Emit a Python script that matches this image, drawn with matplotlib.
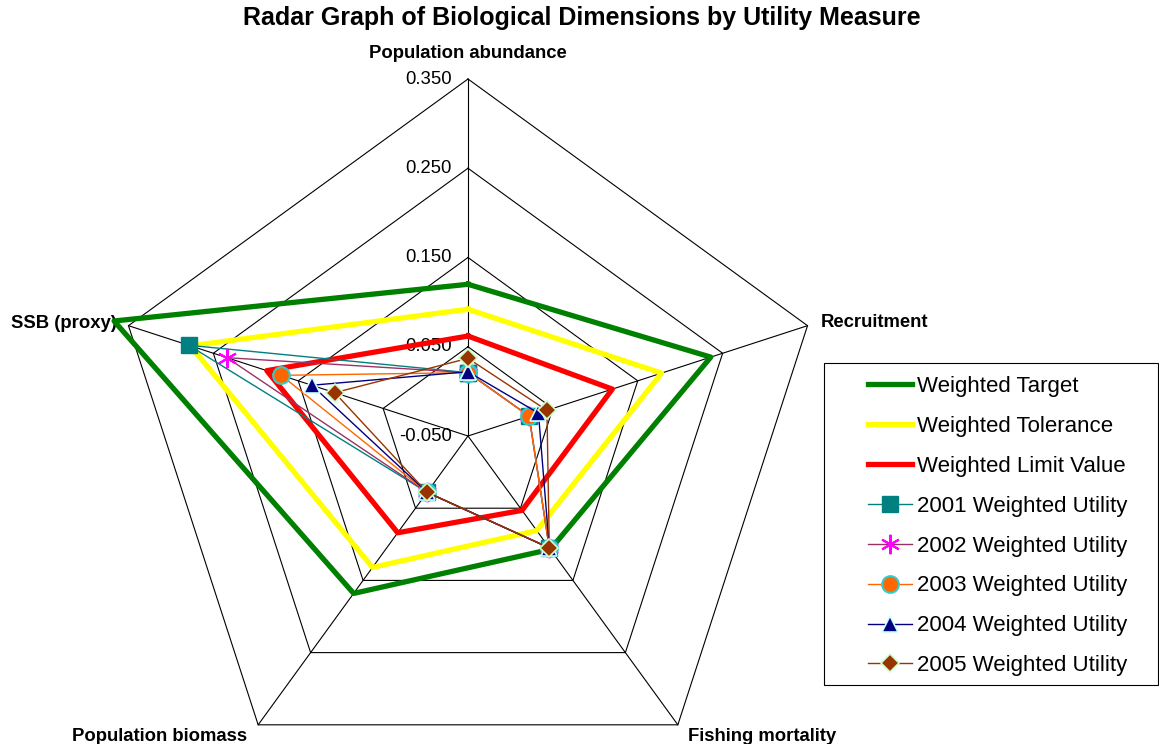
import numpy as np
import matplotlib.pyplot as plt
from matplotlib.patches import Rectangle

plt.rcParams['font.family'] = ['Liberation Sans', 'DejaVu Sans']

categories = ['Population abundance', 'Recruitment', 'Fishing mortality',
              'Population biomass', 'SSB (proxy)']
rings = [-0.05, 0.05, 0.15, 0.25, 0.35]
ring_labels = ['-0.050', '0.050', '0.150', '0.250', '0.350']

target = [0.120, 0.236, 0.107, 0.168, 0.367]
tolerance = [0.092, 0.178, 0.081, 0.132, 0.277]
limit = [0.062, 0.120, 0.053, 0.084, 0.187]
u2001 = [0.021, 0.022, 0.105, 0.028, 0.279]
u2002 = [0.021, 0.022, 0.105, 0.028, 0.234]
u2003 = [0.021, 0.022, 0.105, 0.028, 0.170]
u2004 = [0.022, 0.033, 0.105, 0.028, 0.134]
u2005 = [0.037, 0.043, 0.105, 0.028, 0.107]

W, H = 1159, 744
fig = plt.figure(figsize=(W / 100, H / 100), dpi=100)
cx, cy, R = 468, 436, 357
ax = fig.add_axes([(cx - R) / W, (H - cy - R) / H, 2 * R / W, 2 * R / H],
                  projection='polar')
ax.set_theta_offset(np.pi / 2)
ax.set_theta_direction(-1)
ax.set_ylim(-0.05, 0.35)
ax.grid(False)
ax.set_xticks([])
ax.set_yticks([])
ax.spines['polar'].set_visible(False)
ax.patch.set_visible(False)

theta = np.linspace(0, 2 * np.pi, len(categories), endpoint=False)
th = np.append(theta, theta[0])


def closed(v):
    return list(v) + [v[0]]


# pentagon grid
for r in rings[1:]:
    ax.plot(th, [r] * len(th), color='black', lw=0.8, clip_on=False, zorder=1)
for t in theta:
    ax.plot([t, t], [rings[0], rings[-1]], color='black', lw=0.8, clip_on=False, zorder=1)

for r, lab in zip(rings, ring_labels):
    ax.annotate(lab, xy=(0, r), xytext=(-16, 0), textcoords='offset pixels',
                ha='right', va='center', fontsize=13.3)

label_pos = [((0, 26), 'center'), ((13, 3), 'left'), ((10, -12), 'left'),
             ((-11, -12), 'right'), ((-12, 2), 'right')]
for t, name, (off, ha) in zip(theta, categories, label_pos):
    ax.annotate(name, xy=(t, rings[-1]), xytext=off, textcoords='offset pixels',
                ha=ha, va='center', fontsize=13.3, fontweight='bold')

ax.plot(th, closed(target), color='#008000', lw=3.8, clip_on=False, zorder=3,
        label='Weighted Target')
ax.plot(th, closed(tolerance), color='#FFFF00', lw=3.8, clip_on=False, zorder=3,
        label='Weighted Tolerance')
ax.plot(th, closed(limit), color='#FF0000', lw=3.8, clip_on=False, zorder=3,
        label='Weighted Limit Value')
ax.plot(th, closed(u2001), color='#008080', lw=1, marker='s', ms=12,
        mfc='#008080', mec='#008080', clip_on=False, zorder=4,
        label='2001 Weighted Utility')
ax.plot(th, closed(u2002), color='#993366', lw=1, marker=(6, 2, 0), ms=14,
        mec='#FF00FF', mew=1.5, clip_on=False, zorder=4,
        label='2002 Weighted Utility')
ax.plot(th, closed(u2003), color='#FF6600', lw=1, marker='o', ms=12,
        mfc='#FF6600', mec='#33CCCC', mew=1.5, clip_on=False, zorder=4,
        label='2003 Weighted Utility')
ax.plot(th, closed(u2004), color='#000080', lw=1, marker='^', ms=11,
        mfc='#000080', mec='#CCFFFF', mew=1.2, clip_on=False, zorder=4,
        label='2004 Weighted Utility')
ax.plot(th, closed(u2005), color='#993300', lw=1, marker='D', ms=9,
        mfc='#993300', mec='#CCFFCC', mew=1.2, clip_on=False, zorder=4,
        label='2005 Weighted Utility')

handles, labels = ax.get_legend_handles_labels()
fig.legend(handles, labels, loc='upper left', bbox_to_anchor=(868 / W, 1 - 376 / H),
           frameon=False, fontsize=16, borderpad=0, borderaxespad=0,
           handlelength=2.0, handletextpad=0.2, labelspacing=0.85)
fig.patches.append(Rectangle((824 / W, 1 - 685 / H), 334 / W, 322 / H,
                             transform=fig.transFigure, fill=False,
                             edgecolor='black', lw=0.8))

fig.text(582 / W, 1 - 18 / H, 'Radar Graph of Biological Dimensions by Utility Measure',
         ha='center', va='center', fontsize=18, fontweight='bold')

fig.savefig('out.png', dpi=100)
